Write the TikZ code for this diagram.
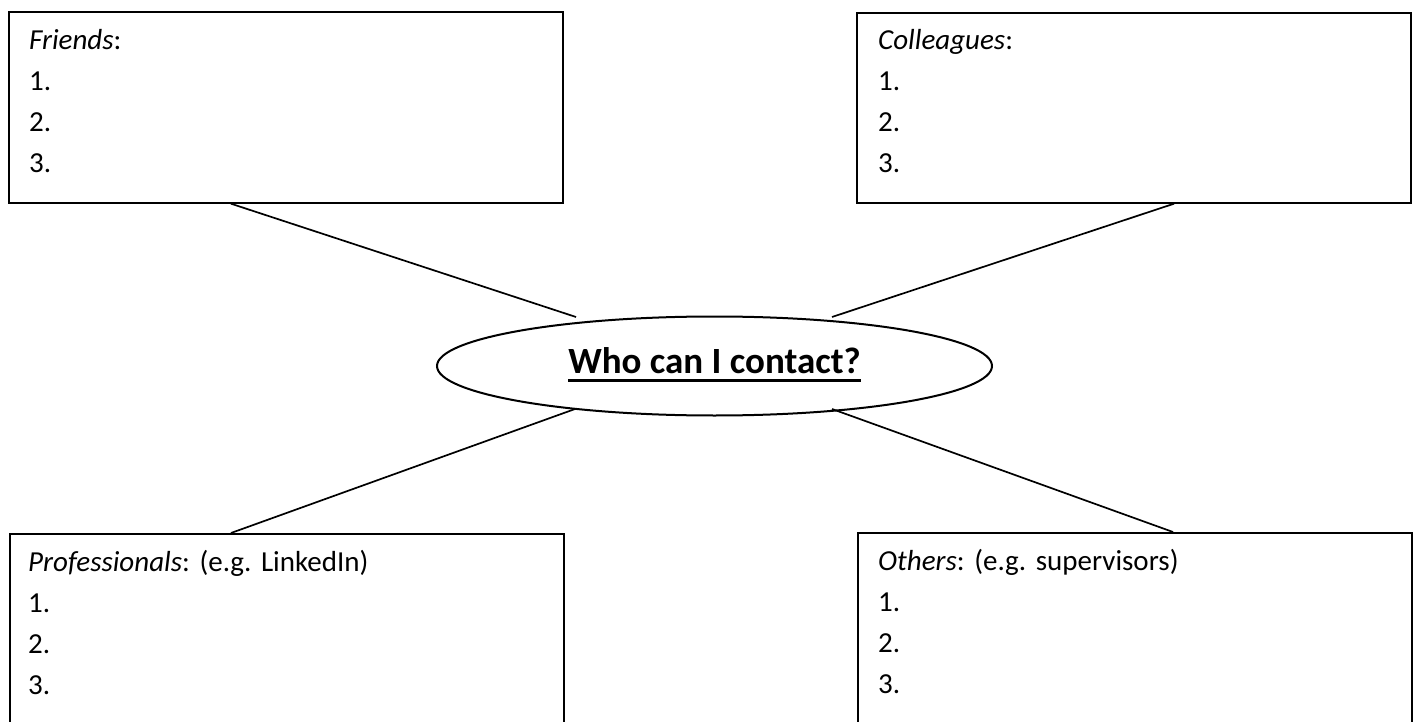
\documentclass[tikz,border=0pt]{standalone}
\usepackage{fontspec}
\setmainfont{Carlito}
\usetikzlibrary{shapes.geometric,positioning}

\begin{document}
\frenchspacing
\begin{tikzpicture}[x=1pt,y=-1pt,
  box/.style={rectangle,draw=black,line width=1.7pt,minimum width=554pt,anchor=north west,inner sep=0pt},
  list/.style={anchor=base west,text width=420pt,align=left,inner sep=0pt,font=\fontsize{29pt}{41pt}\selectfont},
  link/.style={draw=black,line width=1.7pt}]
\clip (0,0) rectangle (1419,722);
\node[box,minimum height=191pt](friends) at (8,11){};
\node[box,minimum height=190pt](colleagues) at (856,12){};
\node[box,minimum height=220pt](professionals) at (9,533){};
\node[box,minimum height=220pt](others) at (857,532){};
\node[list](friendstxt) at ([shift={(21,39)}]friends.north west){\textit{Friends}:\\1.\\2.\\3.};
\node[list](colleaguestxt) at ([shift={(22,38)}]colleagues.north west){\textit{Colleagues}:\\1.\\2.\\3.};
\node[list](professionalstxt) at ([shift={(19,38)}]professionals.north west){\textit{Professionals}: (e.g. LinkedIn)\\1.\\2.\\3.};
\node[list](otherstxt) at ([shift={(21,38)}]others.north west){\textit{Others}: (e.g. supervisors)\\1.\\2.\\3.};
\node[ellipse,draw=black,line width=2pt,minimum width=555pt,minimum height=99pt,inner sep=0pt](hub) at (714.5,366){};
\node[anchor=base,inner sep=0pt,font=\fontsize{37pt}{44pt}\selectfont\bfseries](title) at (714.5,373){Who can I contact?};
\draw[line width=3pt] ([yshift=-7.5pt]title.base west) -- ([yshift=-7.5pt]title.base east);
\coordinate (hubnw) at (576,317);
\coordinate (hubne) at (832,317);
\coordinate (hubsw) at (575,409);
\coordinate (hubse) at (832,409);
\draw[link] ([xshift=223pt]friends.south west) -- (hubnw);
\draw[link] ([xshift=318pt]colleagues.south west) -- (hubne);
\draw[link] (hubsw) -- ([xshift=222pt]professionals.north west);
\draw[link] (hubse) -- ([xshift=316pt]others.north west);
\end{tikzpicture}
\end{document}
